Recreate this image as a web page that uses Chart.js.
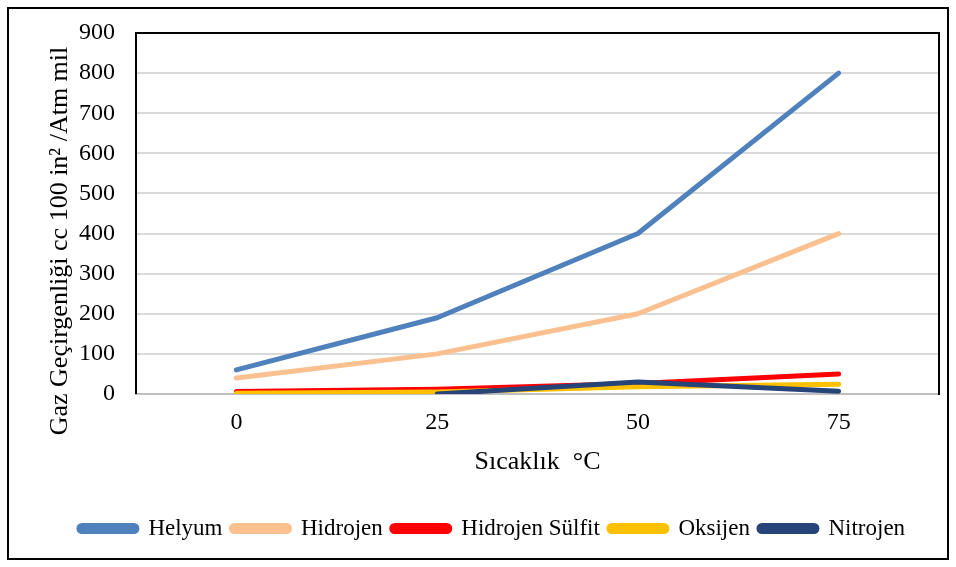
<!DOCTYPE html>
<html>
<head>
<meta charset="utf-8">
<script src="https://cdn.jsdelivr.net/npm/chart.js@4/dist/chart.umd.min.js"></script>
<style>
  html, body { margin: 0; padding: 0; background: #fff; }
  #wrap { width: 956px; height: 567px; }
</style>
</head>
<body>
<div id="wrap"><canvas id="chart" width="956" height="567"></canvas></div>
<script>
const temps = ["0", "25", "50", "75"];

const helyum = [60, 190, 400, 800];
const hidrojen = [40, 100, 200, 400];
const hidrojenSulfit = [6, 12, 26, 50];
const oksijen = [2, 5, 18, 24];
const nitrojen = [null, 0, 30, 7];

const yTicks = [0, 100, 200, 300, 400, 500, 600, 700, 800, 900];
const yTitle = "Gaz Geçirgenliği cc 100 in² /Atm mil";

const FONT = "'Liberation Serif', 'Times New Roman', serif";

// frame round the whole picture, plot area border and the y title
const frames = {
  id: "frames",
  beforeDraw(chart) {
    const c = chart.ctx;
    c.save();
    c.fillStyle = "#fff";
    c.fillRect(0, 0, chart.width, chart.height);
    c.restore();
  },
  afterDraw(chart) {
    const c = chart.ctx;
    const a = chart.chartArea;
    c.save();
    c.strokeStyle = "#000";
    c.lineWidth = 2;
    c.strokeRect(8, 8, 940, 551);
    c.beginPath();
    c.moveTo(a.left, a.bottom);
    c.lineTo(a.left, a.top);
    c.lineTo(a.right, a.top);
    c.lineTo(a.right, a.bottom + 1);
    c.stroke();

    c.translate(60, 241);
    c.rotate(-Math.PI / 2);
    c.fillStyle = "#000";
    c.font = "26px " + FONT;
    c.textAlign = "center";
    c.textBaseline = "middle";
    c.fillText(yTitle, 0, 0);
    c.restore();
  }
};

function line(label, data, color, order) {
  return {
    label, data, order,
    borderColor: color,
    backgroundColor: color,
    borderWidth: 5,
    borderCapStyle: "round",
    borderJoinStyle: "round",
    pointRadius: 0,
    tension: 0,
    spanGaps: false
  };
}

new Chart(document.getElementById("chart"), {
  type: "line",
  data: {
    labels: temps,
    datasets: [
      line("Helyum", helyum, "#4f81bd", 5),
      line("Hidrojen", hidrojen, "#fac090", 4),
      line("Hidrojen Sülfit", hidrojenSulfit, "#ff0000", 3),
      line("Oksijen", oksijen, "#ffc000", 2),
      line("Nitrojen", nitrojen, "#264478", 1)
    ]
  },
  plugins: [frames],
  options: {
    responsive: false,
    animation: false,
    devicePixelRatio: 1,
    layout: { padding: { left: 45, right: 17, top: 33, bottom: 17 } },
    plugins: {
      tooltip: { enabled: false },
      legend: {
        position: "bottom",
        labels: {
          color: "#000",
          font: { family: FONT, size: 23 },
          boxWidth: 58,
          boxHeight: 6,
          useBorderRadius: true,
          borderRadius: 3,
          padding: 9,
          sort: (a, b) => a.datasetIndex - b.datasetIndex
        }
      }
    },
    scales: {
      x: {
        offset: true,
        grid: { display: false, drawTicks: false },
        border: { color: "#bfbfbf", width: 2 },
        ticks: { color: "#000", font: { family: FONT, size: 24 }, padding: 14 },
        title: {
          display: true,
          text: "Sıcaklık  °C",
          color: "#000",
          font: { family: FONT, size: 26 },
          padding: { top: 0, bottom: 30 }
        },
        afterFit(scale) { scale.height = 114; }
      },
      y: {
        min: 0,
        max: 900,
        afterBuildTicks(scale) { scale.ticks = yTicks.map(v => ({ value: v })); },
        grid: { color: "#d9d9d9", lineWidth: 2, drawTicks: false },
        border: { display: false },
        ticks: { color: "#000", font: { family: FONT, size: 24 }, padding: 21 },
        afterFit(scale) {
          scale.width = 91;
          scale.paddingTop = 0;
          scale.paddingBottom = 0;
        }
      }
    }
  }
});
</script>
</body>
</html>
